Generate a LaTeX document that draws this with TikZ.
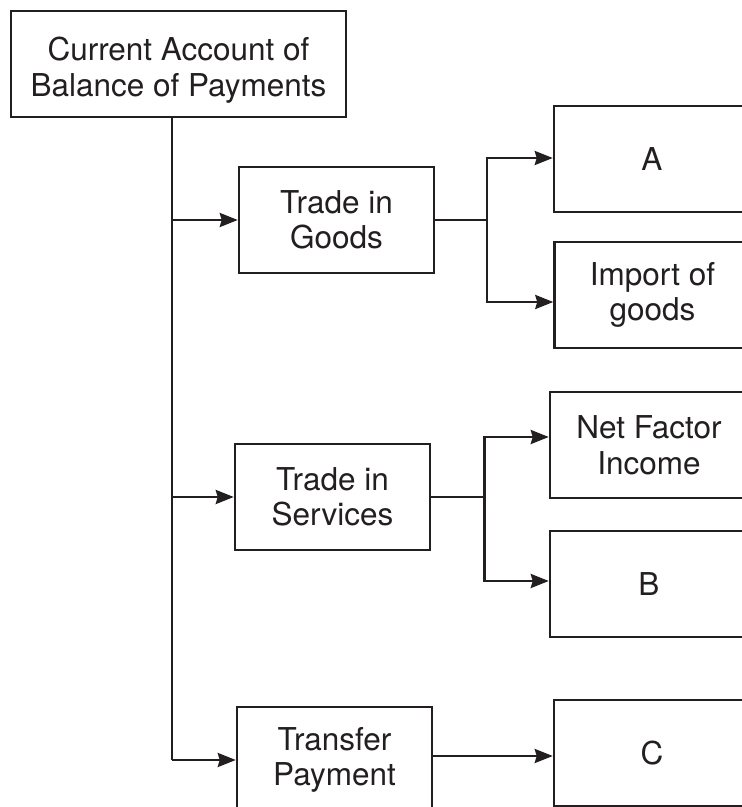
\documentclass[tikz,border=0pt]{standalone}
\usepackage{fontspec}
\setmainfont{TeX Gyre Heros}
\usetikzlibrary{arrows.meta}
\definecolor{ink}{HTML}{231F20}
\begin{document}
\begin{tikzpicture}[x=1pt,y=-1pt,
  txt/.style={text=ink, inner sep=0pt, align=center,
    font=\fontsize{31.5}{35.5}\selectfont},
  box/.style={txt, draw=ink, line width=2.5pt,
    minimum width=#1, minimum height=106pt},
  box/.default=195pt,
  arr/.style={draw=ink, line width=2.5pt, -{Stealth[length=18pt,width=14pt,inset=2pt]}},
  ln/.style={draw=ink, line width=2.5pt}]
\useasboundingbox (0,0) rectangle (742,807);
\clip (0,0) rectangle (742,807);
\fill[white] (0,0) rectangle (742,807);
% nodes
\node[box=335pt] (top) at (178.5,64) {};
\node[txt] (toptext) at (178.5,70) {Current Account of\\Balance of Payments};
\node[box] (goods) at (336.5,220) {Trade in\\Goods};
\node[box] (serv) at (332.5,497) {Trade in\\Services};
\node[box] (tr) at (334.5,760) {Transfer\\Payment};
\node[box=196pt] (A) at (652,159) {A};
\node[box=196pt] (imp) at (652.5,295) {Import of\\goods};
\node[box=198pt] (net) at (649,445) {Net Factor\\Income};
\node[box=198pt] (B) at (649,584) {B};
\node[box=196pt] (C) at (652,753) {C};
% junction coordinates
\coordinate (tb) at (172,760);
\coordinate (j1) at (487,220);
\coordinate (j2) at (484.5,497);
% trunk
\draw[ln] (tb |- top.south) -- (tb);
\draw[arr] (tb |- goods.west) -- (goods.west);
\draw[arr] (tb |- serv.west) -- (serv.west);
\draw[arr] (tb |- tr.west) -- (tr.west);
% goods branch
\draw[ln] (goods.east) -- (j1);
\draw[arr] (j1) |- ([yshift=1pt]A.west);
\draw[arr] (j1) |- ([yshift=-7pt]imp.west);
% services branch
\draw[ln] (serv.east) -- (j2);
\draw[arr] (j2) |- ([yshift=8pt]net.west);
\draw[arr] (j2) |- ([yshift=3pt]B.west);
% transfer
\draw[arr] ([yshift=4pt]tr.east) -- ([yshift=4pt]tr.east -| C.west);
\end{tikzpicture}
\end{document}
